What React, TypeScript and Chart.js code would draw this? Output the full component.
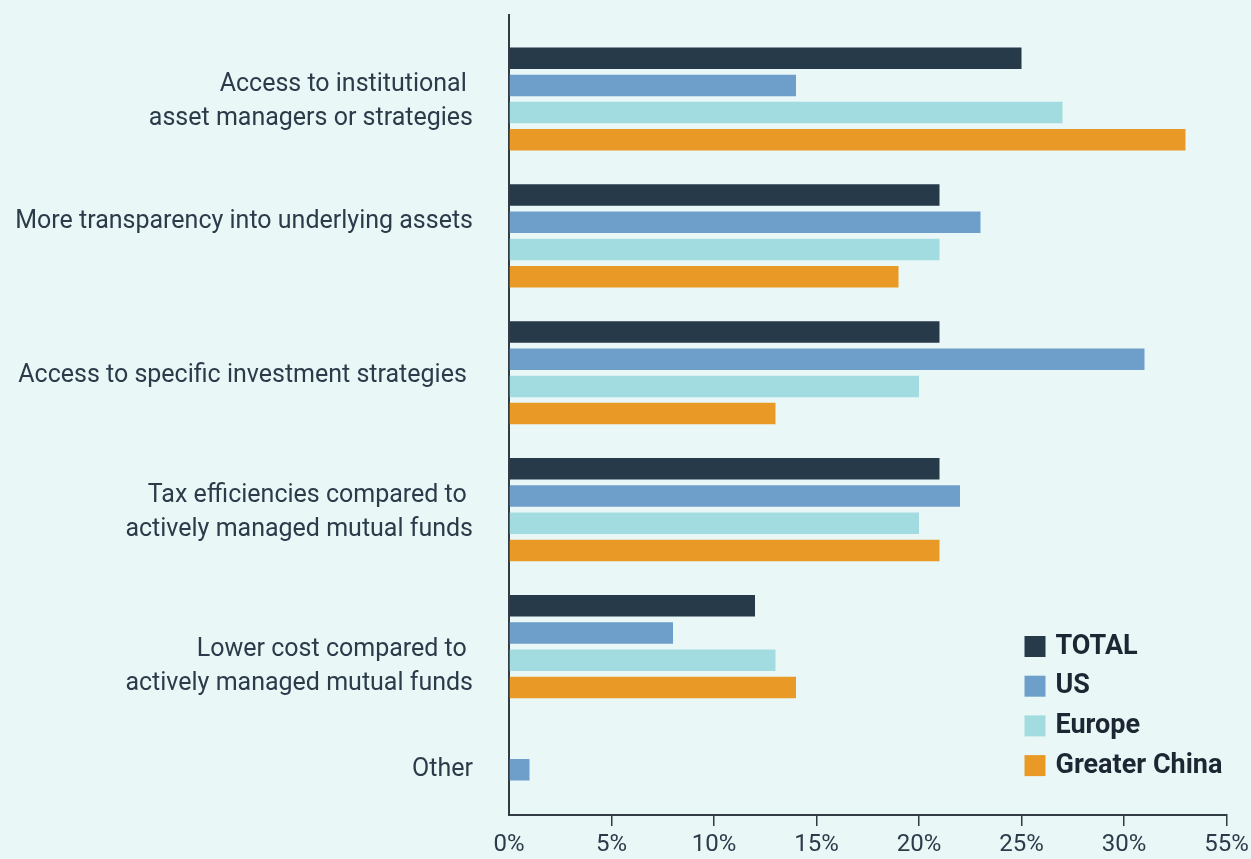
import React, { useEffect, useRef } from 'react';
import { Chart, registerables } from 'chart.js';

Chart.register(...registerables);

// ---- data ----
const CATEGORIES: string[][] = [
  ['Access to institutional ', 'asset managers or strategies'],
  ['More transparency into underlying assets', ''],
  ['Access to specific investment strategies '],
  ['Tax efficiencies compared to ', 'actively managed mutual funds'],
  ['', 'Lower cost compared to ', 'actively managed mutual funds'],
  ['Other', ''],
];

const SERIES_NAMES = ['TOTAL', 'US', 'Europe', 'Greater China'];
const TOTAL = [25, 21, 21, 21, 12, 0];
const US = [14, 23, 31, 22, 8, 1];
const EUROPE = [27, 21, 20, 20, 13, 0];
const GREATER_CHINA = [33, 19, 13, 21, 14, 0];
const X_TICK_LABELS = ['0%', '5%', '10%', '15%', '20%', '25%', '30%', '55%'];

const COLORS = ['#273a4a', '#6d9fca', '#a3dce0', '#e99a26'];
const FONT = "'Roboto', sans-serif";
const TEXT = '#2c3b4a';
const AXIS = '#333b42';

const legendPlugin = {
  id: 'customLegend',
  afterDraw(chart: any) {
    const { ctx, chartArea } = chart;
    const x0 = chartArea.right - 202;
    const y0 = chartArea.bottom - 179;
    const row = 39.7;
    ctx.save();
    chart.data.datasets.forEach((ds: any, i: number) => {
      const y = y0 + i * row;
      ctx.fillStyle = ds.backgroundColor;
      ctx.fillRect(x0, y, 21, 21);
      ctx.fillStyle = '#1c2733';
      ctx.font = `bold 27px ${FONT}`;
      ctx.textBaseline = 'middle';
      ctx.textAlign = 'left';
      ctx.fillText(ds.label, x0 + 31, y + 11);
    });
    ctx.restore();
  },
};

export default function App() {
  const ref = useRef<HTMLCanvasElement | null>(null);

  useEffect(() => {
    document.body.style.margin = '0';
    const series = [TOTAL, US, EUROPE, GREATER_CHINA];
    const chart = new Chart(ref.current as HTMLCanvasElement, {
      type: 'bar',
      data: {
        datasets: series.map((vals, si) => ({
          label: SERIES_NAMES[si],
          data: vals.map((v, i) => ({ x: v, y: i })),
          backgroundColor: COLORS[si],
          borderWidth: 0,
          categoryPercentage: 0.795,
          barPercentage: 0.79,
        })),
      },
      options: {
        indexAxis: 'y',
        animation: false,
        responsive: false,
        maintainAspectRatio: false,
        layout: { padding: { top: 15, right: 24.5, left: 0, bottom: 0 } },
        plugins: {
          legend: { display: false },
          tooltip: { enabled: false },
        },
        scales: {
          x: {
            type: 'linear',
            min: 0,
            max: 35,
            ticks: {
              stepSize: 5,
              padding: 5,
              color: TEXT,
              font: { family: FONT, size: 24 },
              callback: (_v: any, i: number) => X_TICK_LABELS[i],
            },
            grid: {
              drawOnChartArea: false,
              drawTicks: true,
              tickLength: 11,
              lineWidth: 1.5,
              color: (c: any) => (c.tick && c.tick.value === 0 ? 'rgba(0,0,0,0)' : AXIS),
            },
            border: { display: true, color: AXIS, width: 2 },
            afterFit: (s: any) => {
              s.height = 44;
              s.paddingLeft = 0;
              s.paddingRight = 0;
            },
          },
          y: {
            type: 'linear',
            reverse: true,
            offset: false,
            bounds: 'data',
            min: -0.6136,
            max: 5.2304,
            afterBuildTicks: (s: any) => {
              s.ticks = CATEGORIES.map((_c, i) => ({ value: i }));
            },
            ticks: {
              padding: 36,
              labelOffset: 3,
              color: TEXT,
              autoSkip: false,
              includeBounds: false,
              font: { family: FONT, size: 25, lineHeight: 1.36 },
              callback: (v: any) => CATEGORIES[v] ?? '',
            },
            grid: { display: false, drawTicks: false, offset: false },
            border: { display: true, color: AXIS, width: 2 },
            afterFit: (s: any) => {
              s.width = 509;
              s.paddingTop = 0;
              s.paddingBottom = 0;
            },
          },
        },
      } as any,
      plugins: [legendPlugin],
    });
    return () => chart.destroy();
  }, []);

  return (
    <div style={{ width: 1251, height: 859, background: '#e9f7f7' }}>
      <canvas ref={ref} width={1251} height={859} style={{ display: 'block' }} />
    </div>
  );
}
